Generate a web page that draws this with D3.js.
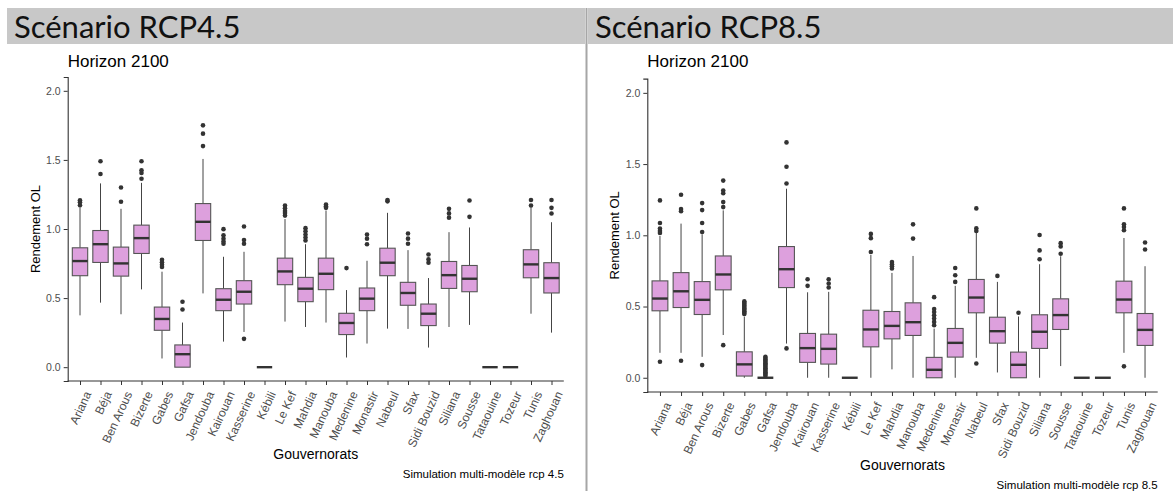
<!DOCTYPE html>
<html>
<head>
<meta charset="utf-8">
<script src="https://cdn.jsdelivr.net/npm/d3@7"></script>
<style>
  html, body { margin: 0; padding: 0; background: #fff; }
  svg { display: block; }
</style>
</head>
<body>
<svg id="chart" width="1173" height="491"></svg>
<script>
// Governorates on the x axis
const governorats = ["Ariana", "Béja", "Ben Arous", "Bizerte", "Gabes", "Gafsa", "Jendouba",
  "Kairouan", "Kasserine", "Kébili", "Le Kef", "Mahdia", "Manouba", "Medenine", "Monastir",
  "Nabeul", "Sfax", "Sidi Bouzid", "Siliana", "Sousse", "Tataouine", "Tozeur", "Tunis", "Zaghouan"];

const yTicks = [0, 0.5, 1.0, 1.5, 2.0];

// RCP4.5, horizon 2100 — box statistics per governorate
const rcp45Q1     = [0.662, 0.758, 0.659, 0.823, 0.267, 0.000, 0.917, 0.409, 0.457, 0, 0.597, 0.474, 0.561, 0.236, 0.409, 0.662, 0.448, 0.301, 0.570, 0.546, 0, 0, 0.647, 0.537];
const rcp45Median = [0.768, 0.890, 0.751, 0.934, 0.349, 0.094, 1.052, 0.488, 0.546, 0, 0.693, 0.568, 0.676, 0.320, 0.496, 0.756, 0.537, 0.387, 0.666, 0.640, 0, 0, 0.744, 0.645];
const rcp45Q3     = [0.864, 0.989, 0.869, 1.028, 0.435, 0.161, 1.184, 0.568, 0.626, 0, 0.789, 0.650, 0.789, 0.390, 0.573, 0.861, 0.614, 0.457, 0.765, 0.736, 0, 0, 0.850, 0.756];
const rcp45Low    = [0.375, 0.467, 0.383, 0.563, 0.063, 0.000, 0.534, 0.185, 0.255, 0, 0.330, 0.291, 0.323, 0.070, 0.171, 0.279, 0.277, 0.142, 0.291, 0.306, 0, 0, 0.387, 0.250];
const rcp45High   = [1.153, 1.330, 1.146, 1.334, 0.691, 0.323, 1.507, 0.799, 0.835, 0, 1.072, 0.890, 1.133, 0.558, 0.770, 1.117, 0.847, 0.645, 0.977, 1.011, 0, 0, 1.157, 1.049];
const rcp45Outliers = [
  [1.208, 1.193, 1.171], [1.49, 1.398], [1.30, 1.197], [1.49, 1.425, 1.405, 1.364],
  [0.778, 0.759, 0.742, 0.725], [0.474, 0.417], [1.75, 1.69, 1.60], [0.999, 0.955, 0.93, 0.91, 0.893],
  [1.018, 0.92, 0.893, 0.205], [], [1.17, 1.15, 1.13, 1.116, 1.097], [1.006, 0.984, 0.96, 0.939, 0.917],
  [1.177, 1.165, 1.153], [0.717], [0.96, 0.93, 0.89], [1.21, 1.20],
  [0.967, 0.93, 0.893], [0.816, 0.78, 0.756], [1.146, 1.113, 1.082], [1.206, 1.088],
  [], [], [1.21, 1.17], [1.21, 1.153, 1.112]
];

// RCP8.5, horizon 2100 — box statistics per governorate
const rcp85Q1     = [0.470, 0.493, 0.444, 0.617, 0.012, 0, 0.633, 0.108, 0.096, 0, 0.217, 0.273, 0.297, 0.000, 0.145, 0.456, 0.243, 0.000, 0.206, 0.339, 0, 0, 0.456, 0.227];
const rcp85Median = [0.556, 0.607, 0.547, 0.725, 0.094, 0, 0.762, 0.208, 0.203, 0, 0.339, 0.364, 0.390, 0.056, 0.245, 0.563, 0.327, 0.091, 0.323, 0.440, 0, 0, 0.549, 0.336];
const rcp85Q3     = [0.680, 0.738, 0.675, 0.855, 0.182, 0, 0.921, 0.311, 0.306, 0, 0.474, 0.465, 0.526, 0.143, 0.346, 0.690, 0.425, 0.180, 0.442, 0.554, 0, 0, 0.678, 0.451];
const rcp85Low    = [0.175, 0.175, 0.147, 0.300, 0.000, 0, 0.240, 0.000, 0.000, 0, 0.000, 0.059, 0.000, 0.000, 0.000, 0.140, 0.037, 0.000, 0.000, 0.082, 0, 0, 0.175, 0.000];
const rcp85High   = [0.995, 1.082, 1.007, 1.175, 0.427, 0.005, 1.327, 0.600, 0.603, 0, 0.862, 0.736, 0.855, 0.345, 0.645, 1.016, 0.673, 0.430, 0.797, 0.853, 0, 0, 0.981, 0.783];
const rcp85Outliers = [
  [1.245, 1.086, 1.047, 1.031, 1.017, 0.112], [1.285, 1.185, 1.169, 0.119], [1.226, 1.177, 1.086, 1.023, 0.089],
  [1.384, 1.314, 1.295, 1.233, 1.198, 0.229],
  [0.537, 0.527, 0.517, 0.507, 0.497, 0.487, 0.477, 0.467, 0.457, 0.447],
  [0.147, 0.138, 0.129, 0.120, 0.111, 0.102, 0.093, 0.084, 0.075, 0.066, 0.057, 0.048, 0.039, 0.030, 0.021, 0.012],
  [1.652, 1.481, 1.364, 0.206], [0.692, 0.645], [0.692, 0.662, 0.634], [], [1.01, 0.98, 0.883],
  [0.813, 0.797, 0.783, 0.767], [1.077, 0.977],
  [0.566, 0.483, 0.462, 0.439, 0.416, 0.392, 0.369], [0.77, 0.72, 0.673], [1.189, 1.05, 1.03, 0.10],
  [0.715], [0.456], [1.002, 0.894, 0.832], [0.945, 0.922, 0.871], [], [], [1.189, 1.077, 1.058, 1.035, 0.08],
  [0.949, 0.90]
];

const panels = [
  { title: "Scénario RCP4.5", caption: "Simulation multi-modèle rcp 4.5",
    bandX0: 7, bandX1: 585, left: 67.7, right: 563.8, top: 77, bottom: 381,
    q1: rcp45Q1, med: rcp45Median, q3: rcp45Q3, lo: rcp45Low, hi: rcp45High, out: rcp45Outliers },
  { title: "Scénario RCP8.5", caption: "Simulation multi-modèle rcp 8.5",
    bandX0: 588, bandX1: 1173, left: 647.3, right: 1157.7, top: 78.6, bottom: 392,
    q1: rcp85Q1, med: rcp85Median, q3: rcp85Q3, lo: rcp85Low, hi: rcp85High, out: rcp85Outliers }
];

const svg = d3.select("#chart");
const FONT = "'Liberation Sans', Arial, sans-serif";
const INK = "#333333";

panels.forEach(p => {
  // header band with scenario name
  svg.append("rect")
    .attr("x", p.bandX0).attr("y", 8)
    .attr("width", p.bandX1 - p.bandX0).attr("height", 36)
    .attr("fill", "#c8c8c8");
  svg.append("text")
    .attr("x", p.bandX0 + 7).attr("y", 37.5)
    .attr("font-family", "Lato, 'Open Sans', sans-serif")
    .attr("font-size", 31)
    .attr("fill", "#111")
    .text(p.title);

  const x = d3.scalePoint().domain(governorats).range([p.left, p.right]).padding(0.6);
  const y = d3.scaleLinear().domain([-0.1, 2.1]).range([p.bottom, p.top]);
  const bw = x.step() * 0.75;

  // plot title
  svg.append("text")
    .attr("x", p.left).attr("y", 67)
    .attr("font-family", FONT).attr("font-size", 17).attr("fill", "#000")
    .text("Horizon 2100");

  // y axis
  const yAxis = svg.append("g")
    .attr("transform", `translate(${p.left},0)`)
    .call(d3.axisLeft(y).tickValues(yTicks).tickFormat(d3.format(".1f")).tickSize(4).tickPadding(3));
  yAxis.select(".domain").attr("stroke", INK).attr("stroke-width", 1.1);
  yAxis.selectAll(".tick line").attr("stroke", INK);
  yAxis.selectAll(".tick text").attr("font-family", FONT).attr("font-size", 10.5).attr("fill", "#4d4d4d");

  // x axis
  const xAxis = svg.append("g")
    .attr("transform", `translate(0,${p.bottom})`)
    .call(d3.axisBottom(x).tickSize(4).tickSizeOuter(0));
  xAxis.select(".domain").attr("stroke", INK).attr("stroke-width", 1.1)
    .attr("d", `M${p.left},0H${p.right}`);
  xAxis.selectAll(".tick line").attr("stroke", INK);
  xAxis.selectAll(".tick text")
    .attr("font-family", FONT).attr("font-size", 12).attr("fill", "#4d4d4d")
    .attr("text-anchor", "end")
    .attr("x", 0).attr("y", 0).attr("dy", "0.75em")
    .attr("transform", "translate(3,9) rotate(-65)");

  // axis titles
  svg.append("text")
    .attr("transform", `translate(${p.left - 28},${(p.top + p.bottom) / 2}) rotate(-90)`)
    .attr("text-anchor", "middle")
    .attr("font-family", FONT).attr("font-size", 13).attr("fill", "#000")
    .text("Rendement OL");
  svg.append("text")
    .attr("x", (p.left + p.right) / 2).attr("y", p.bottom + 78)
    .attr("text-anchor", "middle")
    .attr("font-family", FONT).attr("font-size", 14).attr("fill", "#000")
    .text("Gouvernorats");
  svg.append("text")
    .attr("x", p.right).attr("y", p.bottom + 97)
    .attr("text-anchor", "end")
    .attr("font-family", FONT).attr("font-size", 11.5).attr("fill", "#000")
    .text(p.caption);

  // box plots
  const g = svg.append("g");
  governorats.forEach((name, i) => {
    const cx = x(name);
    const b = g.append("g");
    // whiskers
    b.append("line").attr("x1", cx).attr("x2", cx)
      .attr("y1", y(p.q3[i])).attr("y2", y(p.hi[i]))
      .attr("stroke", "#444").attr("stroke-width", 1);
    b.append("line").attr("x1", cx).attr("x2", cx)
      .attr("y1", y(p.q1[i])).attr("y2", y(p.lo[i]))
      .attr("stroke", "#444").attr("stroke-width", 1);
    // box
    b.append("rect")
      .attr("x", cx - bw / 2).attr("width", bw)
      .attr("y", y(p.q3[i])).attr("height", y(p.q1[i]) - y(p.q3[i]))
      .attr("fill", "#dda0dd").attr("stroke", "#555").attr("stroke-width", 1.1);
    // median
    b.append("line")
      .attr("x1", cx - bw / 2).attr("x2", cx + bw / 2)
      .attr("y1", y(p.med[i])).attr("y2", y(p.med[i]))
      .attr("stroke", INK).attr("stroke-width", 2.4);
    // outliers
    b.selectAll("circle").data(p.out[i]).join("circle")
      .attr("cx", cx).attr("cy", d => y(d)).attr("r", 2.3)
      .attr("fill", INK);
  });
});

// divider between the two scenarios
svg.append("line")
  .attr("x1", 586.5).attr("x2", 586.5).attr("y1", 8).attr("y2", 491)
  .attr("stroke", "#a6a6a6").attr("stroke-width", 2);
</script>
</body>
</html>
